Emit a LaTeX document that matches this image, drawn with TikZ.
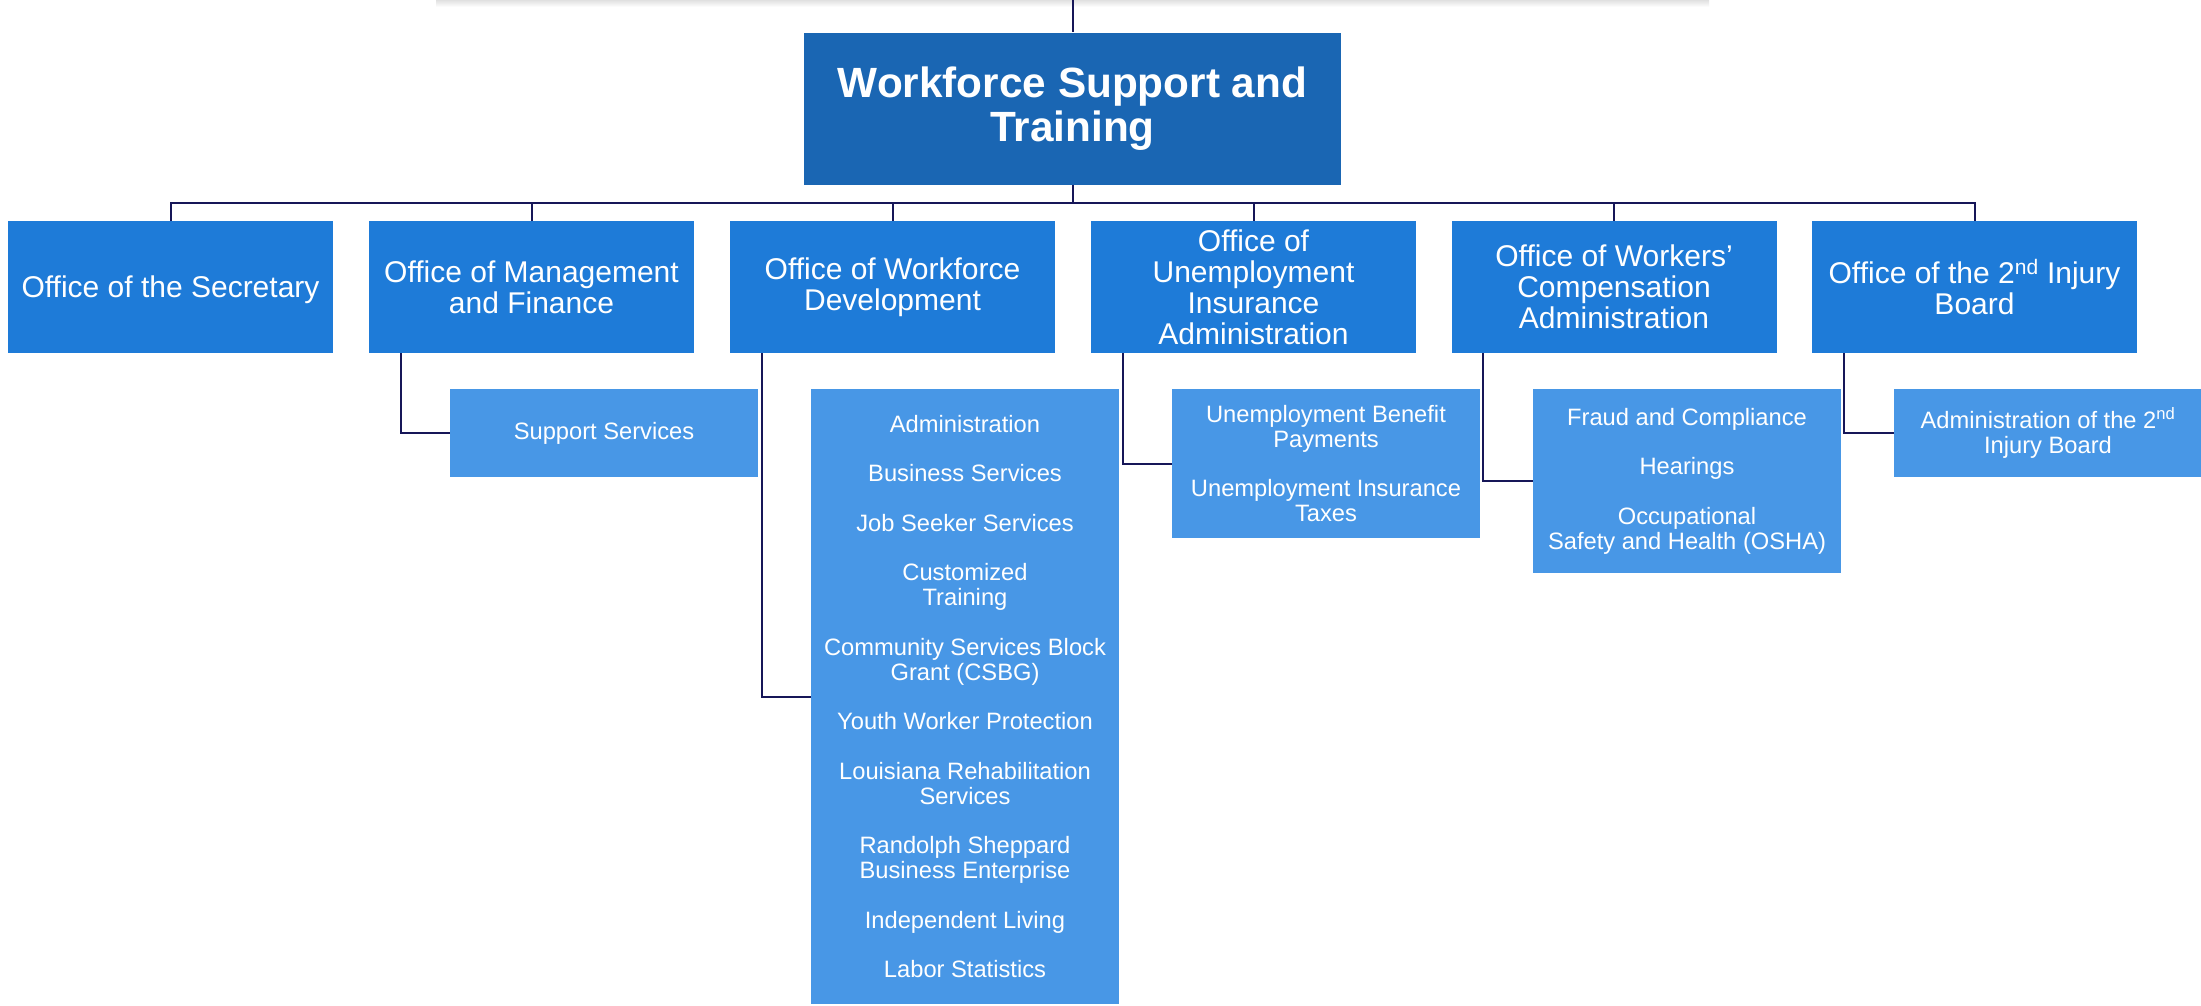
\documentclass[tikz,border=0pt]{standalone}
\usepackage{fontspec}
\setmainfont{Liberation Sans}
\usetikzlibrary{calc}
\definecolor{topblue}{RGB}{26,102,179}
\definecolor{midblue}{RGB}{30,123,216}
\definecolor{subblue}{RGB}{72,151,230}
\definecolor{linecol}{RGB}{22,22,88}
\begin{document}
\begin{tikzpicture}[x=1pt,y=-1pt,
  topbox/.style={fill=topblue,text=white,inner sep=0pt,minimum width=537pt,minimum height=152pt,align=center,font=\bfseries\fontsize{42.3}{44}\selectfont},
  officebox/.style={fill=midblue,text=white,inner sep=0pt,minimum width=325pt,minimum height=132pt,align=center,font=\fontsize{30}{31}\selectfont},
  subbox/.style={fill=subblue,text=white,inner sep=0pt,minimum width=308pt,align=center,font=\fontsize{23.7}{25}\selectfont},
  conn/.style={draw=linecol,line width=2pt}]
\path[use as bounding box] (0,0) rectangle (2201,1005);
\clip (0,0) rectangle (2201,1005);
\fill[white] (0,0) rectangle (2201,1005);
\shade[top color=black!12,bottom color=white] (436,0) rectangle (1709,7);

\node[topbox] (wst) at (1072.5,108.5) {Workforce Support and\\Training};

\node[officebox,text depth=0pt] (o1) at (170.5,287) {Office of the Secretary};
\node[officebox] (o2) at (531.5,287) {Office of Management\\and Finance};
\node[officebox] (o3) at (892.5,287) {Office of Workforce\\Development};
\node[officebox] (o4) at (1253.5,287) {Office of\\Unemployment\\Insurance\\Administration};
\node[officebox] (o5) at (1614,287) {Office of Workers’\\Compensation\\Administration};
\node[officebox] (o6) at (1974.5,287) {Office of the 2\textsuperscript{nd} Injury\\Board};

\node[subbox,minimum height=88pt] (s2) at (604,433) {Support Services};
\node[subbox,minimum height=615pt] (s3) at (965,696.5) {Administration\\[24.5pt]
Business Services\\[24.5pt]
Job Seeker Services\\[24.5pt]
Customized\\Training\\[24.5pt]
Community Services Block\\Grant (CSBG)\\[24.5pt]
Youth Worker Protection\\[24.5pt]
Louisiana Rehabilitation\\Services\\[24.5pt]
Randolph Sheppard\\Business Enterprise\\[24.5pt]
Independent Living\\[24.5pt]
Labor Statistics};
\node[subbox,minimum height=149pt] (s4) at (1326,463.5) {Unemployment Benefit\\Payments\\[24.5pt]Unemployment Insurance\\Taxes};
\node[subbox,minimum height=184pt] (s5) at (1687,481) {Fraud and Compliance\\[24.5pt]Hearings\\[24.5pt]Occupational\\Safety and Health (OSHA)};
\node[subbox,minimum height=88pt] (s6) at (2048,433) {Administration of the 2\textsuperscript{nd}\\Injury Board};

\coordinate (in) at (1072.5,0);
\draw[conn] (in) -- (wst.north);
\draw[conn] (wst.south) -- ++(0,18.5) coordinate (busc);
\foreach \o in {o1,o2,o3,o4,o5,o6} \draw[conn] (busc) -| (\o.north);
\foreach \i in {2,3,4,5,6} \draw[conn] ($(o\i.south west)+(32,0)$) |- (s\i.west);
\end{tikzpicture}
\end{document}
